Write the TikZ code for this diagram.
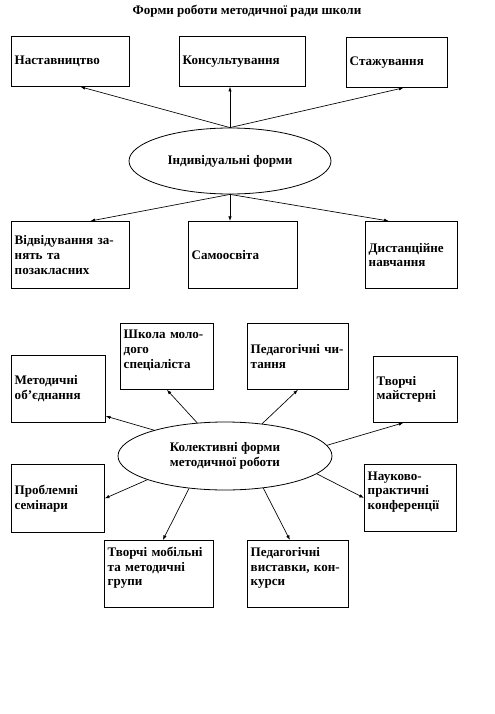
\documentclass[tikz,border=0pt]{standalone}
\usepackage{fontspec}
\setmainfont{Liberation Serif}
\usetikzlibrary{arrows.meta,shapes.geometric}

\begin{document}
\begin{tikzpicture}[
  x=0.75pt, y=-0.75pt,
  font=\fontsize{9.8}{11}\selectfont\bfseries,
  >={Latex[length=3.5pt,width=2.6pt]},
  frm/.style={draw, line width=0.6pt, anchor=north west, align=left, inner xsep=2.5pt, inner ysep=1pt},
  up/.style={text depth=33pt},
  oval/.style={draw, ellipse, line width=0.6pt, inner sep=0pt, align=center},
  arr/.style={->, line width=0.5pt}
]
\useasboundingbox (0,0) rectangle (495,714);

\node (title) at (247,11) {Форми роботи методичної ради школи};

% individual forms
\node[oval, minimum width=151.5pt, minimum height=49.5pt] (ind) at (230,161) {Індивідуальні форми};

\node[frm, text width=83.5pt, minimum height=37.5pt] (nast) at (11,36) {Наставництво};
\node[frm, text width=89.5pt, minimum height=37.5pt] (kons) at (179,36) {Консультування};
\node[frm, text width=70.75pt, minimum height=37.5pt] (staz) at (346,37) {Стажування};

\node[frm, text width=83.5pt, minimum height=50.25pt] (vidv) at (11,221) {Відвідування~за-\\нять~та\\позакласних};
\node[frm, text width=76.75pt, minimum height=50.25pt] (samo) at (188,221) {Самоосвіта};
\node[frm, text width=64pt, minimum height=50.25pt] (dyst) at (365,221) {Дистанційне\\навчання};

\draw[arr] (ind.north) -- ([xshift=7.5pt]nast.south);
\draw[arr] (ind.north) -- (ind.north |- kons.south);
\draw[arr] (ind.north) -- ([xshift=5pt]staz.south);
\draw[arr] (ind.south) -- ([xshift=15pt]vidv.north);
\draw[arr] (ind.south) -- (ind.south |- samo.north);
\draw[arr] (ind.south) -- ([xshift=-17pt]dyst.north);

% collective forms
\node[oval, minimum width=160.5pt, minimum height=51pt] (kol) at (225,456) {Колективні форми\\методичної роботи};

\node[frm, up, text width=64.75pt, minimum height=49.5pt] (shk) at (120,323) {Школа~моло-\\дого\\спеціаліста};
\node[frm, text width=70.75pt, minimum height=49.5pt] (pedch) at (247,323) {Педагогічні~чи-\\тання};
\node[frm, text width=65.5pt, minimum height=50.25pt] (metod) at (11,355) {Методичні\\об’єднання};
\node[frm, text width=58pt, minimum height=49.5pt] (tvm) at (373,356) {Творчі\\майстерні};
\node[frm, text width=64.75pt, minimum height=51pt] (probl) at (11,464) {Проблемні\\семінари};
\node[frm, up, text width=64pt, minimum height=50.25pt] (nauk) at (364,464) {Науково-\\практичні\\конференції};
\node[frm, up, text width=76.75pt, minimum height=50.25pt] (tvmob) at (104,540) {Творчі~мобільні\\та~методичні\\групи};
\node[frm, up, text width=70.75pt, minimum height=50.25pt] (vyst) at (247,540) {Педагогічні\\виставки,~кон-\\курси};

\draw[arr] (kol.160) -- ([yshift=5pt]metod.south east);
\draw[arr] (kol.130) -- (shk.south);
\draw[arr] (kol.41) -- (pedch.south);
\draw[arr] (kol.6) -- ([xshift=-9pt]tvm.south);
\draw[arr] (kol.197) -- (probl.east);
\draw[arr] (kol.222) -- ([xshift=3pt]tvmob.north);
\draw[arr] (kol.320) -- ([xshift=-6pt]vyst.north);
\draw[arr] (kol.349) -- (nauk.west);
\end{tikzpicture}
\end{document}
